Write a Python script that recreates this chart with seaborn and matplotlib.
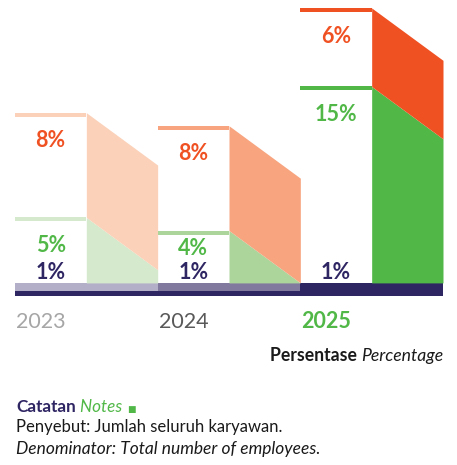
import matplotlib
matplotlib.use("Agg")
import numpy as np
import pandas as pd
import matplotlib.pyplot as plt
import matplotlib.transforms as mtransforms
import seaborn as sns

# Share of employees by year (percent), stacked bottom to top
years = ["2023", "2024", "2025"]
base_pct = [1, 1, 1]      # navy base segment
mid_pct = [5, 4, 15]      # green segment
top_pct = [8, 8, 6]       # orange segment

base_colors = ["#b4afc9", "#82799f", "#2e2563"]
mid_colors = ["#d5e9cc", "#acd59c", "#51b848"]
top_colors = ["#fbd1b9", "#f7a47f", "#f05123"]
year_colors = ["#a6a6a6", "#595959", "#51b848"]
year_weights = ["normal", "normal", "bold"]

NAVY = "#2e2563"
ORANGE = "#f05123"
GREEN = "#51b848"
INK = "#1a1a1a"

sns.set_theme(style="white")
plt.rcParams["font.family"] = ["Lato", "DejaVu Sans"]

W, H = 457, 465
fig = plt.figure(figsize=(W / 100, H / 100), dpi=100)
ax = fig.add_axes([15 / W, 1 - 296 / H, 428 / W, 292 / H])

YMAX = 22.3
px = YMAX / 292.0          # data units per pixel
SLANT = 4.0                # drop of the side faces
CAP = 4 * px               # thickness of the top rules
LBL = 15.5                 # percent label size

# base segment spans the whole group
df = pd.DataFrame({"year": years, "pct": base_pct})
sns.barplot(data=df, x="year", y="pct", hue="year", palette=base_colors,
            width=1.0, saturation=1, errorbar=None, legend=False,
            linewidth=0, ax=ax)

ax.set_xlim(-0.5, 2.5)
ax.set_ylim(0, YMAX)
ax.set_axis_off()

# baseline rule
ax.axhspan(0, 5 * px, color=NAVY, lw=0, zorder=3)


def pct_label(x, yc, s, color):
    ax.annotate(s, (x, yc), xytext=(0, -0.358 * LBL), textcoords="offset points",
                ha="center", va="baseline", color=color, fontsize=LBL,
                fontweight="bold", zorder=5)


for i, yr in enumerate(years):
    floor = base_pct[i]
    mid_top = floor + mid_pct[i]
    top_top = mid_top + top_pct[i]
    segs = [(floor, mid_top, mid_colors[i]), (mid_top, top_top, top_colors[i])]
    xs = np.linspace(i, i + 0.5, 120)
    frac = (xs - i) / 0.5
    for lo, hi, c in segs:
        ax.fill_between(xs, np.maximum(lo - SLANT * frac, floor),
                        np.maximum(hi - SLANT * frac, floor),
                        color=c, lw=0, zorder=2)
        ax.fill_between([i - 0.5, i], hi - CAP, hi, color=c, lw=0, zorder=2)

    y1 = floor + 12 * px
    y_mid = max(mid_top - 27 * px, y1 + 24 * px)
    y_top = top_top - 27 * px
    xc = i - 0.25
    pct_label(xc, y1, f"{base_pct[i]}%", NAVY)
    pct_label(xc, y_mid, f"{mid_pct[i]}%", GREEN)
    pct_label(xc, y_top, f"{top_pct[i]}%", ORANGE)

# year labels under each group
tr = mtransforms.blended_transform_factory(ax.transData, fig.transFigure)
for i, yr in enumerate(years):
    ax.text(i - 0.5 + 1.0 / 142.7, 1 - 328 / H, yr, transform=tr,
            ha="left", va="baseline", fontsize=15.5, color=year_colors[i],
            fontweight=year_weights[i])

# unit caption
t_en = fig.text(443 / W, 1 - 361 / H, "Percentage", ha="right", va="baseline",
                fontsize=12.7, style="italic", color=INK)
fig.canvas.draw()
ext = t_en.get_window_extent()
fig.text(ext.x0 / W, 1 - 361 / H, "Persentase ", ha="right", va="baseline",
         fontsize=12.7, fontweight="bold", color=INK)

# notes
fig.canvas.draw()
t1 = fig.text(16 / W, 1 - 412 / H, "Catatan", ha="left", va="baseline",
              fontsize=12.3, fontweight="bold", color=NAVY)
fig.canvas.draw()
e1 = t1.get_window_extent()
t2 = fig.text(e1.x1 / W, 1 - 412 / H, " Notes", ha="left", va="baseline",
              fontsize=12.3, style="italic", color=GREEN)
fig.canvas.draw()
e2 = t2.get_window_extent()
fig.text(e2.x1 / W + 5 / W, 1 - 412 / H, "■", ha="left", va="baseline",
         fontsize=6.5, color=GREEN, family="DejaVu Sans")
fig.text(16 / W, 1 - 432 / H, "Penyebut: Jumlah seluruh karyawan.", ha="left",
         va="baseline", fontsize=12, color=INK)
fig.text(16 / W, 1 - 454 / H, "Denominator: Total number of employees.",
         ha="left", va="baseline", fontsize=12.5, style="italic", color=INK)

fig.savefig("out.png", dpi=100, facecolor="white")
